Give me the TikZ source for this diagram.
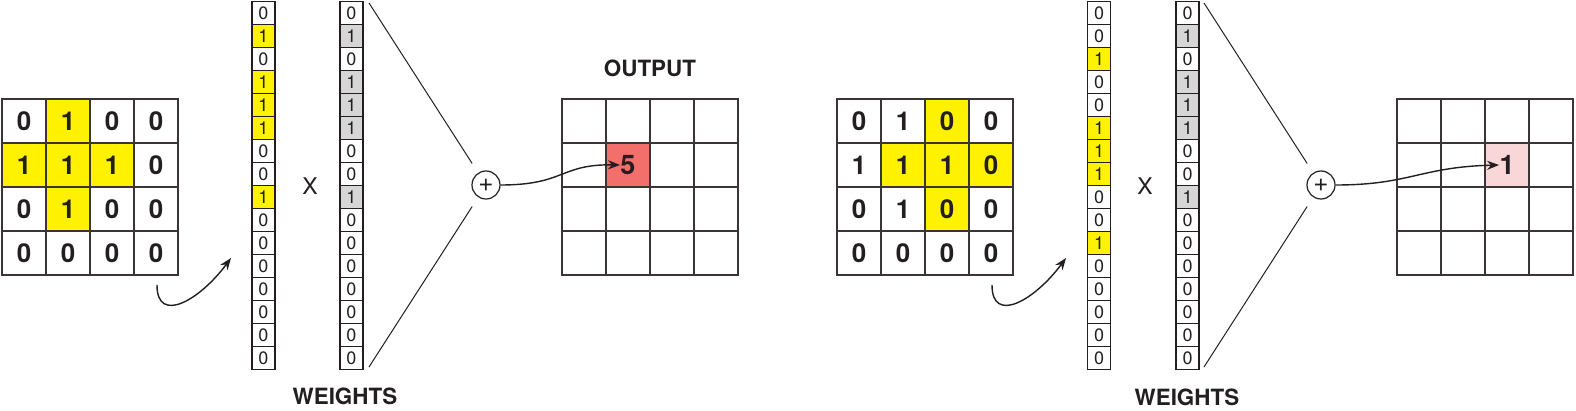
\documentclass[tikz,border=0pt]{standalone}
\usepackage{fontspec}
\setmainfont{TeX Gyre Heros}
\usepackage{tikz}
\usetikzlibrary{
        arrows.meta,
        positioning
    }
\definecolor{ink}{HTML}{231F20}
\definecolor{hiyellow}{HTML}{FFF200}
\definecolor{wgray}{HTML}{D6D6D6}
\definecolor{outred}{HTML}{F26F6B}
\definecolor{outpink}{HTML}{F9D6D7}
\tikzset{>={Stealth[length=6pt,width=4.5pt]},auto}
\tikzset{
    gcell/.style={minimum size=22pt, inner sep=0pt, outer sep=0pt, text=ink,
                  font=\fontsize{13}{13}\selectfont\bfseries},
    vcell/.style={minimum width=11.5pt, minimum height=11.5pt, inner sep=0pt,
                  outer sep=0pt, text=ink, font=\fontsize{9}{9}\selectfont},
    gline/.style={draw=ink!90, line width=1pt},
    vline/.style={draw=ink, line width=0.6pt},
    sumnode/.style={circle, draw=ink, line width=0.6pt, minimum size=14pt,
                    inner sep=0pt, text=ink, font=\fontsize{13}{13}\selectfont},
    title/.style={text=ink, font=\fontsize{11.2}{11.2}\selectfont\bfseries},
    times/.style={text=ink, font=\fontsize{11.5}{11.5}\selectfont},
    outval/.style={text=ink, inner sep=0pt, font=\fontsize{13.5}{13.5}\selectfont\bfseries},
    flow/.style={->, draw=ink, line width=0.7pt},
    fan/.style={draw=ink, line width=0.5pt}
}

\begin{document}
\begin{tikzpicture}[x=0.5pt, y=-0.5pt]
    \useasboundingbox (0,0) rectangle (1576,411);

    % first step: input patch, flattened input, weights
    \foreach \row [count=\r] in {{0/white,1/hiyellow,0/white,0/white},
                                 {1/hiyellow,1/hiyellow,1/hiyellow,0/white},
                                 {0/white,1/hiyellow,0/white,0/white},
                                 {0/white,0/white,0/white,0/white}}
        \foreach \v/\f [count=\c] in \row
            \node[gcell, fill=\f] (ina-\r-\c) at ({2+44*(\c-0.5)},{99+44*(\r-0.5)}) {\v};

    \foreach \v/\f [count=\i] in {0/white,1/hiyellow,0/white,1/hiyellow,1/hiyellow,1/hiyellow,
                                  0/white,0/white,1/hiyellow,0/white,0/white,0/white,
                                  0/white,0/white,0/white,0/white}
        \node[vcell, fill=\f] (veca-\i) at (263.5,{1.5+23*(\i-0.5)}) {\v};

    \foreach \v/\f [count=\i] in {0/white,1/wgray,0/white,1/wgray,1/wgray,1/wgray,
                                  0/white,0/white,1/wgray,0/white,0/white,0/white,
                                  0/white,0/white,0/white,0/white}
        \node[vcell, fill=\f] (wa-\i) at (351.5,{1.5+23*(\i-0.5)}) {\v};

    \node[times] (xa) at (310,186) {X};
    \node[title] (weightsa) at (345,396) {WEIGHTS};

    \foreach \r in {1,...,4}
        \foreach \c in {1,...,4}
            \node[gcell] (outa-\r-\c) at ({562+44*(\c-0.5)},{99+44*(\r-0.5)}) {};
    \node[gcell, fill=outred] (hita) at (outa-2-2) {};
    \node[outval] (fivea) at (hita) {5};
    \node[title] (outputa) at (650,68) {OUTPUT};

    % second step: patch shifted one column
    \foreach \row [count=\r] in {{0/white,1/white,0/hiyellow,0/white},
                                 {1/white,1/hiyellow,1/hiyellow,0/hiyellow},
                                 {0/white,1/white,0/hiyellow,0/white},
                                 {0/white,0/white,0/white,0/white}}
        \foreach \v/\f [count=\c] in \row
            \node[gcell, fill=\f] (inb-\r-\c) at ({837+44*(\c-0.5)},{99+44*(\r-0.5)}) {\v};

    \foreach \v/\f [count=\i] in {0/white,0/white,1/hiyellow,0/white,0/white,1/hiyellow,
                                  1/hiyellow,1/hiyellow,0/white,0/white,1/hiyellow,0/white,
                                  0/white,0/white,0/white,0/white}
        \node[vcell, fill=\f] (vecb-\i) at (1099,{1.5+23*(\i-0.5)}) {\v};

    \foreach \v/\f [count=\i] in {0/white,1/wgray,0/white,1/wgray,1/wgray,1/wgray,
                                  0/white,0/white,1/wgray,0/white,0/white,0/white,
                                  0/white,0/white,0/white,0/white}
        \node[vcell, fill=\f] (wb-\i) at (1187.5,{1.5+23*(\i-0.5)}) {\v};

    \node[times] (xb) at (1145,186) {X};
    \node[title] (weightsb) at (1187,397) {WEIGHTS};

    \foreach \r in {1,...,4}
        \foreach \c in {1,...,4}
            \node[gcell] (outb-\r-\c) at ({1397+44*(\c-0.5)},{99+44*(\r-0.5)}) {};
    \node[gcell, fill=outpink] (hitb) at (outb-2-3) {};
    \node[outval] (oneb) at (hitb) {1};

    % cell borders on top of the fills
    \foreach \g in {ina,inb,outa,outb}
        \foreach \r in {1,...,4}
            \foreach \c in {1,...,4}
                \draw[gline] (\g-\r-\c.south west) rectangle (\g-\r-\c.north east);
    \foreach \g in {veca,wa,vecb,wb}
        \foreach \i in {1,...,16}
            \draw[vline] (\g-\i.south west) rectangle (\g-\i.north east);

    % sums and arrows
    \node[sumnode] (suma) at (486,185) {+};
    \coordinate (fana1) at (369,3);
    \coordinate (fana2) at (369,367);
    \draw[fan, shorten <=5.5pt] (suma) -- (fana1);
    \draw[fan, shorten <=5.5pt] (suma) -- (fana2);

    \coordinate (flata1) at (157,285);
    \coordinate (flata2) at (231,258);
    \draw[flow] (flata1) .. controls (157,325) and (200,300) .. (flata2);
    \draw[flow] (suma) .. controls (565,185) and (560,164) .. (fivea.west);

    \node[sumnode] (sumb) at (1321,185) {+};
    \coordinate (fanb1) at (1204,3);
    \coordinate (fanb2) at (1204,367);
    \draw[fan, shorten <=5.5pt] (sumb) -- (fanb1);
    \draw[fan, shorten <=5.5pt] (sumb) -- (fanb2);

    \coordinate (flatb1) at (992,285);
    \coordinate (flatb2) at (1066,258);
    \draw[flow] (flatb1) .. controls (992,325) and (1035,300) .. (flatb2);
    \draw[flow] (sumb) .. controls (1410,185) and (1420,167) .. (oneb.west);
\end{tikzpicture}
\end{document}
